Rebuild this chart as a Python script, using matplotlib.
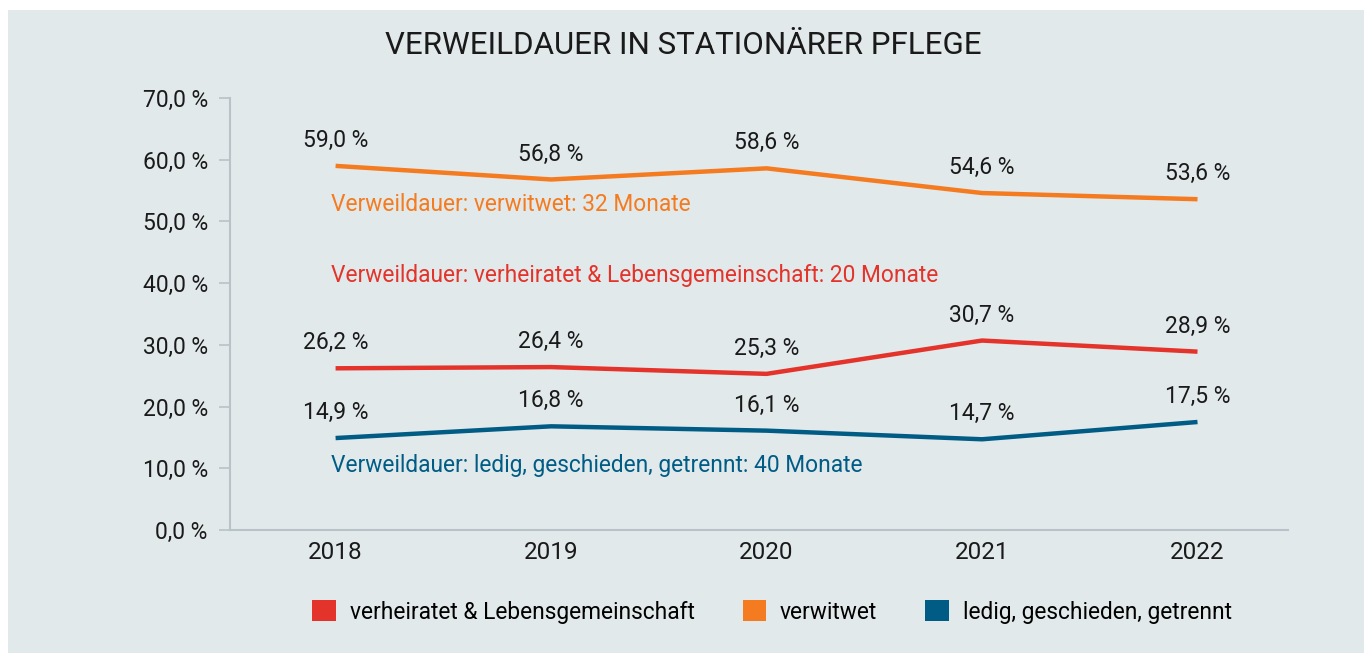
import matplotlib.pyplot as plt
from matplotlib.patches import Rectangle, Patch

plt.rcParams['font.family'] = ['Roboto', 'DejaVu Sans']

years = ['2018', '2019', '2020', '2021', '2022']
verheiratet = [26.2, 26.4, 25.3, 30.7, 28.9]
verwitwet = [59.0, 56.8, 58.6, 54.6, 53.6]
ledig = [14.9, 16.8, 16.1, 14.7, 17.5]
yticks = [0, 10, 20, 30, 40, 50, 60, 70]

series_names = ['verheiratet & Lebensgemeinschaft', 'verwitwet',
                'ledig, geschieden, getrennt']
notes = ['Verweildauer: verheiratet & Lebensgemeinschaft: 20 Monate',
         'Verweildauer: verwitwet: 32 Monate',
         'Verweildauer: ledig, geschieden, getrennt: 40 Monate']
note_y = [41.2, 52.8, 10.4]

colors = ['#E3332A', '#F47B20', '#005C85']
bg = '#E2E9EB'
grey = '#B9C2C8'
ink = '#1a1a1a'

fig = plt.figure(figsize=(13.65, 6.53), dpi=100)
fig.patch.set_facecolor('white')
fig.patches.append(Rectangle((8 / 1365, 0), 1356 / 1365, 1 - 10 / 653,
                             transform=fig.transFigure, facecolor=bg,
                             edgecolor='none', zorder=-10))

ax = fig.add_axes([230 / 1365, 1 - 530 / 653, 1058 / 1365, 432 / 653])
ax.set_facecolor('none')
ax.set_zorder(1)

x = list(range(len(years)))
for vals, col, note, ny in zip([verheiratet, verwitwet, ledig], colors, notes, note_y):
    ax.plot(x, vals, color=col, lw=3.2, solid_capstyle='butt')
    for xi, v in zip(x, vals):
        ax.annotate(('%.1f %%' % v).replace('.', ','), (xi, v),
                    xytext=(0, 10), textcoords='offset points',
                    ha='center', va='bottom', fontsize=16.5, color=ink)
    ax.text(-0.02, ny, note, color=col, fontsize=16.4, ha='left', va='center')

ax.set_xlim(-0.49, 4.42)
ax.set_ylim(0, 70)
ax.set_xticks(x)
ax.set_xticklabels(years)
ax.set_yticks(yticks)
ax.set_yticklabels([('%.1f %%' % t).replace('.', ',') for t in yticks])
ax.tick_params(axis='y', length=8, width=1.2, color=grey, labelsize=16.5,
               pad=8, labelcolor=ink)
ax.tick_params(axis='x', length=0, labelsize=17.5, pad=8, labelcolor=ink)
for s in ['top', 'right']:
    ax.spines[s].set_visible(False)
for s in ['left', 'bottom']:
    ax.spines[s].set_color(grey)
    ax.spines[s].set_linewidth(1.5)

fig.text(683 / 1365, 1 - 45 / 653, 'VERWEILDAUER IN STATIONÄRER PFLEGE',
         ha='center', va='center', fontsize=22.5, color=ink)

handles = [Patch(facecolor=c, edgecolor='none') for c in colors]
fig.legend(handles, series_names, loc='center', ncol=3,
           bbox_to_anchor=(772 / 1365, 1 - 612 / 653), frameon=False,
           fontsize=16.4, handlelength=1.05, handleheight=1.05,
           handletextpad=0.6, columnspacing=2.1)

fig.savefig('out.png', dpi=100, facecolor=fig.get_facecolor())
